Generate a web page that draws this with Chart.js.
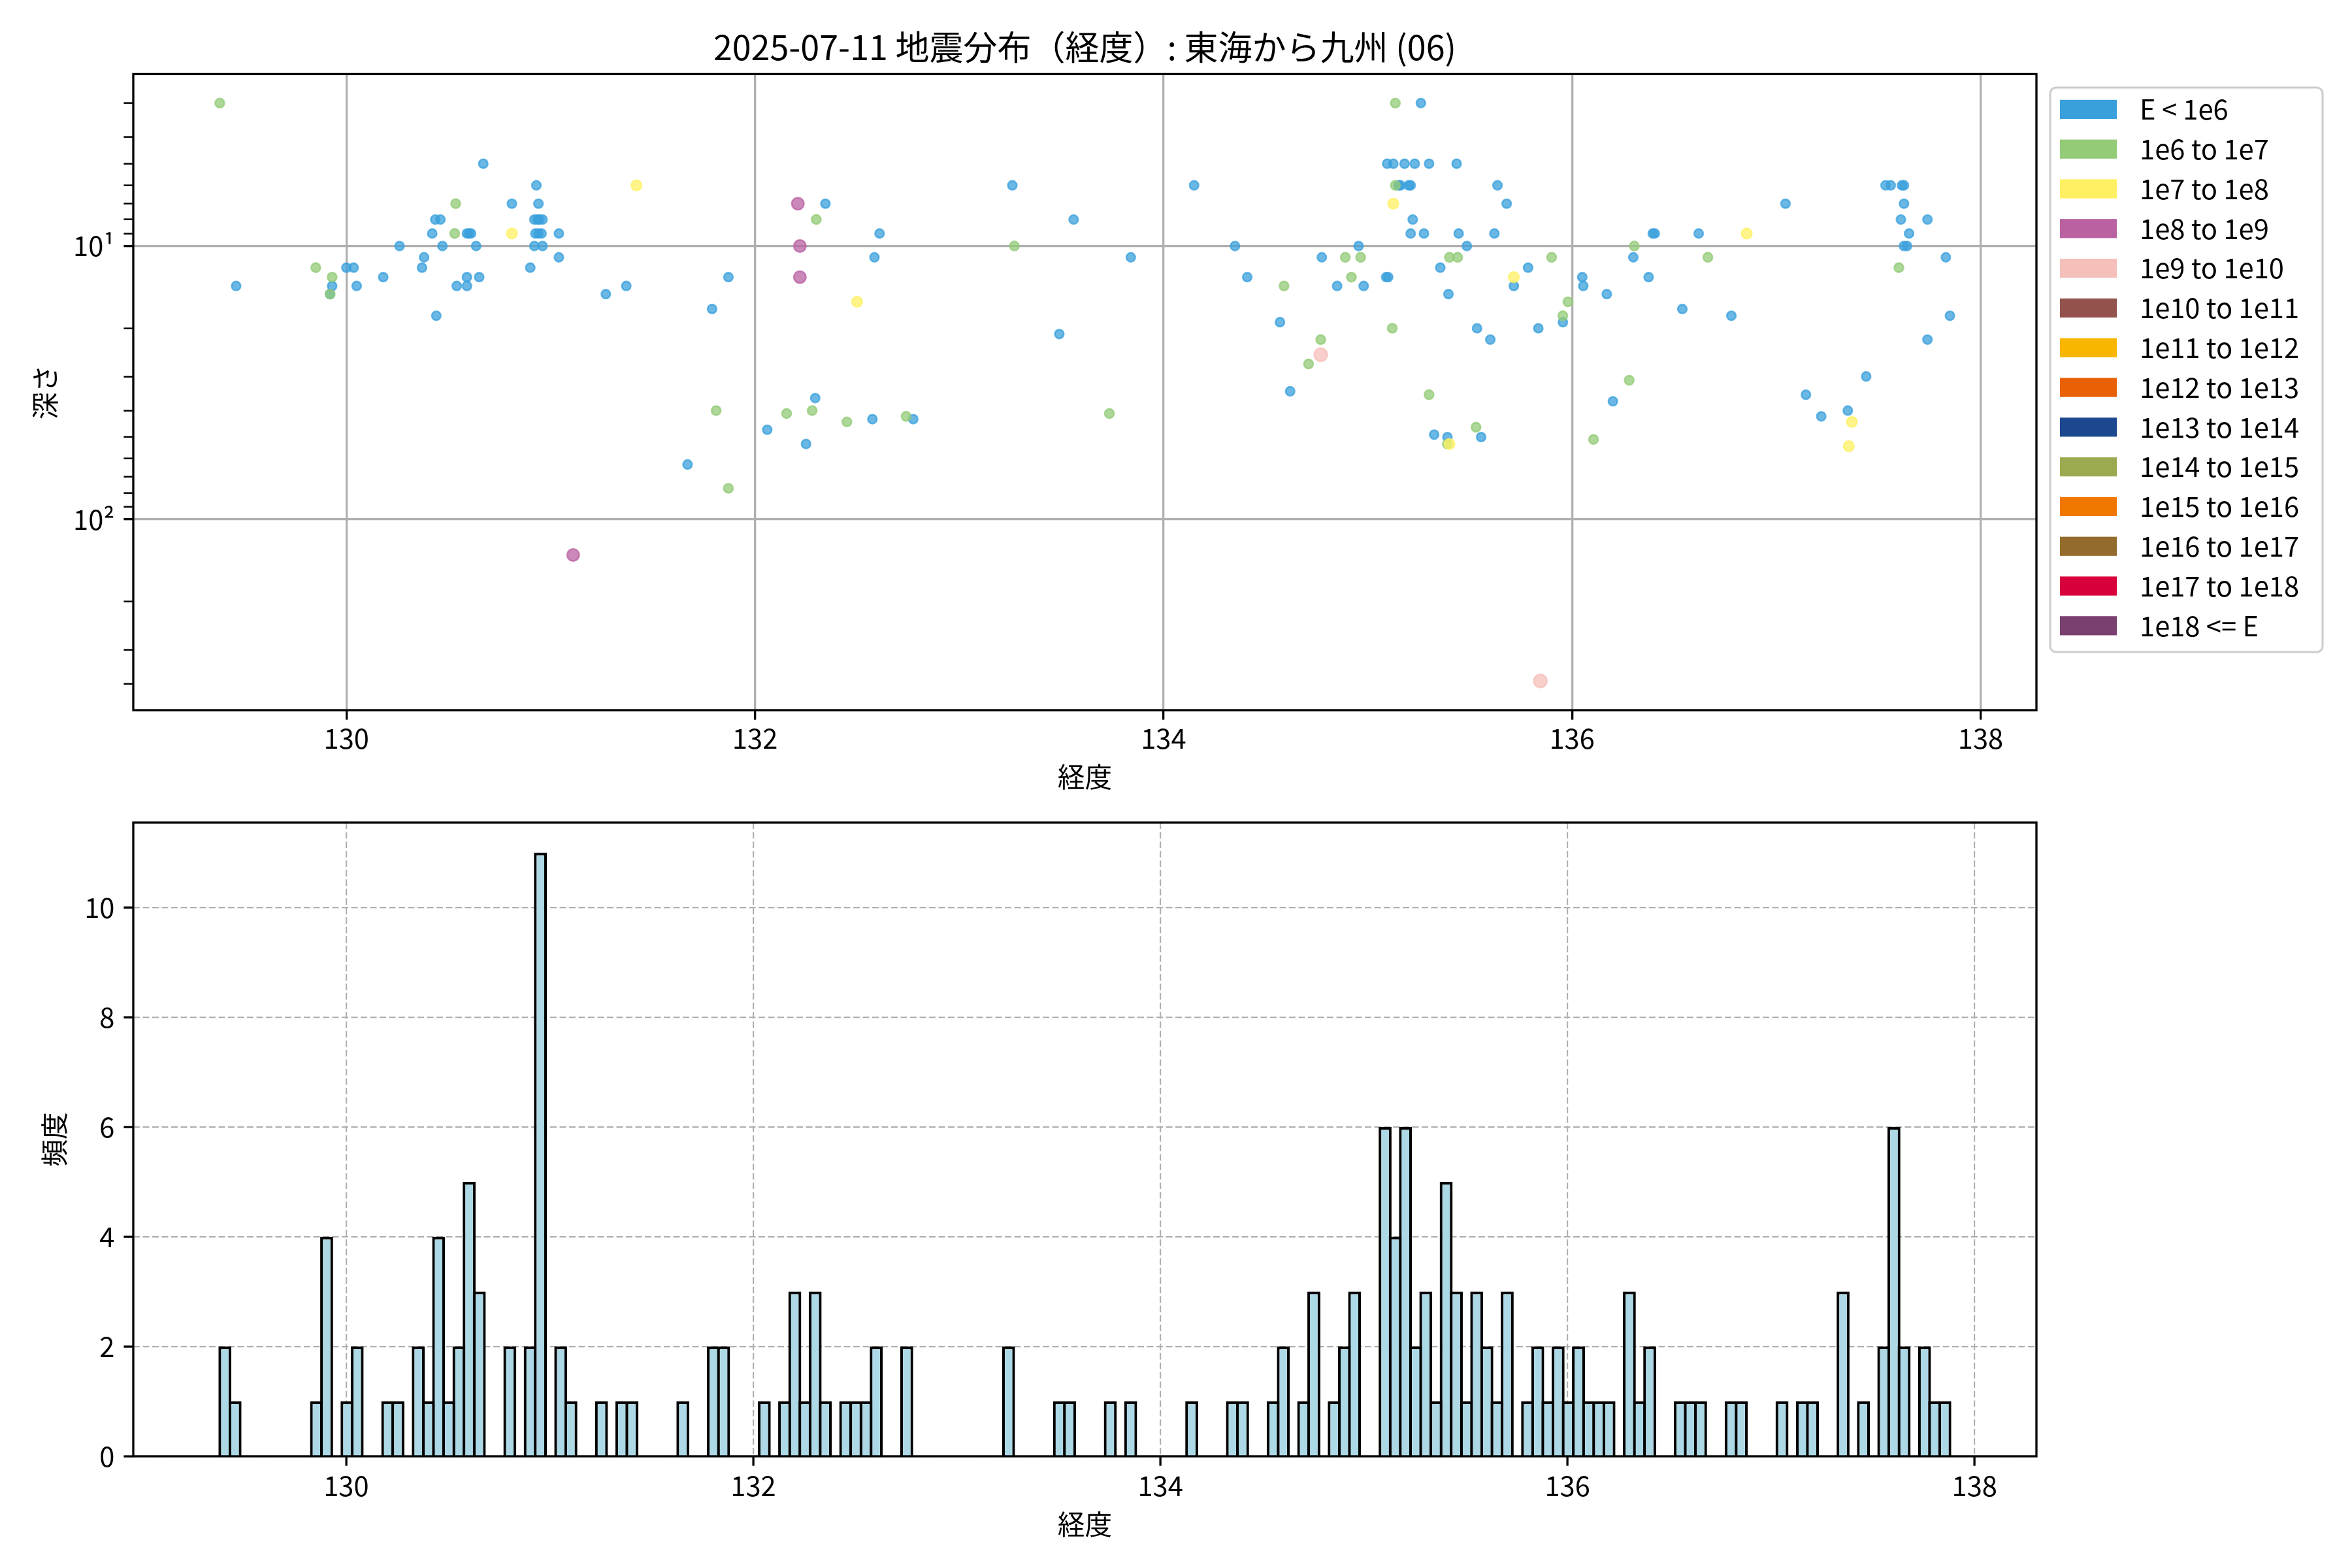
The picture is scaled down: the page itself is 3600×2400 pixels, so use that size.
<!DOCTYPE html>
<html>
<head>
<meta charset="utf-8">
<script src="https://cdn.jsdelivr.net/npm/chart.js@4.4.1/dist/chart.umd.min.js"></script>
<style>
  body { margin: 0; background: #fff; }
  #wrap { position: relative; width: 3600px; height: 2400px; background: #fff; }
  canvas { position: absolute; left: 0; }
</style>
</head>
<body>
<div id="wrap">
  <canvas id="scatterChart" width="3600" height="1220" style="top:0px"></canvas>
  <canvas id="histChart" width="3600" height="1180" style="top:1220px"></canvas>
</div>
<script>
// Chart text
const titleText = '2025-07-11 地震分布（経度）: 東海から九州 (06)';

// Energy classes (legend)
const energyLabels = ['E < 1e6', '1e6 to 1e7', '1e7 to 1e8', '1e8 to 1e9', '1e9 to 1e10',
  '1e10 to 1e11', '1e11 to 1e12', '1e12 to 1e13', '1e13 to 1e14', '1e14 to 1e15',
  '1e15 to 1e16', '1e16 to 1e17', '1e17 to 1e18', '1e18 <= E'];
const energyColors = ['#3AA0DC', '#93CB77', '#FFF063', '#BA62A1', '#F5BFBA',
  '#94524C', '#F8B600', '#EA6005', '#1B488E', '#9BAA50',
  '#F07800', '#936B2C', '#D7003A', '#7A4070'];

// Events: longitude, depth (km), energy class index
const quakeLon = [
  129.38, 129.46, 129.85, 129.93, 129.93, 129.92, 129.92, 130.00, 130.035, 130.05,
  130.18, 130.26, 130.37, 130.38, 130.42, 130.435, 130.46, 130.47, 130.44, 130.535,
  130.53, 130.54, 130.59, 130.59, 130.59, 130.60, 130.61, 130.635, 130.65, 130.67,
  130.81, 130.81, 130.90, 130.93, 130.94, 130.92, 130.935, 130.945, 130.96, 130.925,
  130.94, 130.955, 130.92, 130.96, 131.04, 131.04, 131.27, 131.11, 131.42, 131.37,
  131.79, 131.87, 131.81, 131.67, 131.87, 132.21, 132.345, 132.30, 132.22, 132.22,
  132.61, 132.585, 132.50, 132.295, 132.155, 132.28, 132.06, 132.25, 132.45, 132.575,
  132.74, 132.775, 133.26, 133.27, 133.56, 133.49, 133.84, 133.735, 134.15, 134.35,
  134.41, 134.57, 134.59, 134.62, 134.71, 134.77, 134.77, 134.775, 134.85, 134.89,
  134.92, 134.965, 134.955, 134.98, 135.09, 135.10, 135.12, 135.135, 135.26, 135.095,
  135.125, 135.18, 135.23, 135.30, 135.435, 135.135, 135.15, 135.16, 135.20, 135.21,
  135.635, 135.125, 135.68, 135.22, 135.21, 135.275, 135.445, 135.62, 135.485, 135.40,
  135.44, 135.355, 135.90, 135.785, 135.715, 135.715, 135.395, 135.98, 135.955, 135.955,
  135.535, 135.60, 135.835, 135.30, 135.325, 135.39, 135.39, 135.40, 135.53, 135.555,
  135.845, 136.05, 136.055, 136.17, 136.105, 136.20, 136.28, 136.305, 136.30, 136.375,
  136.395, 136.405, 136.54, 136.62, 136.665, 136.78, 136.855, 137.045, 137.145, 137.22,
  137.35, 137.37, 137.355, 137.44, 137.535, 137.56, 137.615, 137.625, 137.625, 137.61,
  137.74, 137.65, 137.625, 137.64, 137.60, 137.83, 137.85, 137.74
];
const quakeDepth = [
  3, 14, 12, 13, 14, 15, 15, 12, 12, 14,
  13, 10, 12, 11, 9, 8, 8, 10, 18, 7,
  9, 14, 13, 14, 9, 9, 9, 10, 13, 5,
  9, 7, 12, 6, 7, 8, 8, 8, 8, 9,
  9, 9, 10, 10, 9, 11, 15, 135, 6, 14,
  17, 13, 40, 63, 77, 7, 7, 8, 10, 13,
  9, 11, 16, 36, 41, 40, 47, 53, 44, 43,
  42, 43, 6, 10, 8, 21, 11, 41, 6, 10,
  13, 19, 14, 34, 27, 22, 25, 11, 14, 11,
  13, 11, 10, 14, 13, 13, 20, 3, 3, 5,
  5, 5, 5, 5, 5, 6, 6, 6, 6, 6,
  6, 7, 7, 8, 9, 9, 9, 9, 10, 11,
  11, 12, 11, 12, 13, 14, 15, 16, 18, 19,
  20, 22, 20, 35, 49, 50, 53, 53, 46, 50,
  390, 13, 14, 15, 51, 37, 31, 10, 11, 13,
  9, 9, 17, 9, 11, 18, 9, 7, 35, 42,
  40, 44, 54, 30, 6, 6, 6, 6, 7, 8,
  8, 9, 10, 10, 12, 11, 18, 22
];
const quakeClass = [
  1, 0, 1, 1, 0, 1, 0, 0, 0, 0,
  0, 0, 0, 0, 0, 0, 0, 0, 0, 1,
  1, 0, 0, 0, 0, 0, 0, 0, 0, 0,
  2, 0, 0, 0, 0, 0, 0, 0, 0, 0,
  0, 0, 0, 0, 0, 0, 0, 3, 2, 0,
  0, 0, 1, 0, 1, 3, 0, 1, 3, 3,
  0, 0, 2, 0, 1, 1, 0, 0, 1, 0,
  1, 0, 0, 1, 0, 0, 0, 1, 0, 0,
  0, 0, 1, 0, 1, 1, 4, 0, 0, 1,
  1, 1, 0, 0, 0, 0, 1, 1, 0, 0,
  0, 0, 0, 0, 0, 1, 0, 0, 0, 0,
  0, 2, 0, 0, 0, 0, 0, 0, 0, 1,
  1, 0, 1, 0, 2, 0, 0, 1, 1, 0,
  0, 0, 0, 1, 0, 0, 1, 2, 1, 0,
  4, 0, 0, 0, 1, 0, 1, 1, 0, 0,
  0, 0, 0, 0, 1, 0, 2, 0, 0, 0,
  0, 2, 2, 0, 0, 0, 0, 0, 0, 0,
  0, 0, 0, 0, 1, 0, 0, 0
];

// Histogram: 0.05 degree bins starting at the westernmost event
const histStart = 129.379;
const histBinWidth = 0.05;
const histCounts = [
  2, 1, 0, 0, 0, 0, 0, 0, 0, 1,
  4, 0, 1, 2, 0, 0, 1, 1, 0, 2,
  1, 4, 1, 2, 5, 3, 0, 0, 2, 0,
  2, 11, 0, 2, 1, 0, 0, 1, 0, 1,
  1, 0, 0, 0, 0, 1, 0, 0, 2, 2,
  0, 0, 0, 1, 0, 1, 3, 1, 3, 1,
  0, 1, 1, 1, 2, 0, 0, 2, 0, 0,
  0, 0, 0, 0, 0, 0, 0, 2, 0, 0,
  0, 0, 1, 1, 0, 0, 0, 1, 0, 1,
  0, 0, 0, 0, 0, 1, 0, 0, 0, 1,
  1, 0, 0, 1, 2, 0, 1, 3, 0, 1,
  2, 3, 0, 0, 6, 4, 6, 2, 3, 1,
  5, 3, 1, 3, 2, 1, 3, 0, 1, 2,
  1, 2, 1, 2, 1, 1, 1, 0, 3, 1,
  2, 0, 0, 1, 1, 1, 0, 0, 1, 1,
  0, 0, 0, 1, 0, 1, 1, 0, 0, 3,
  0, 1, 0, 2, 6, 2, 0, 2, 1, 1
];

// Axis ticks
const lonTicks = [130, 132, 134, 136, 138];
const depthTicks = [3, 4, 5, 6, 7, 8, 9, 10, 20, 30, 40, 50, 60, 70, 80, 90, 100, 200, 300, 400];
const depthMajor = [10, 100];
const countTicks = [0, 2, 4, 6, 8, 10];

// marker radius per energy class
const classRadius = [6.8, 7.0, 7.8, 9.2, 10.0, 10, 10, 10, 10, 10, 10, 10, 10, 10];

function rgba(hex, a) {
  const n = parseInt(hex.slice(1), 16);
  return `rgba(${(n >> 16) & 255}, ${(n >> 8) & 255}, ${n & 255}, ${a})`;
}

// black box round the plot area, like matplotlib spines
const framePlugin = {
  id: 'frame',
  afterDraw(chart) {
    const { ctx, chartArea: a } = chart;
    ctx.save();
    ctx.strokeStyle = '#000';
    ctx.lineWidth = 3.3;
    ctx.strokeRect(a.left, a.top, a.right - a.left, a.bottom - a.top);
    ctx.restore();
  }
};

// legend outside the axes on the right
const energyLegend = {
  id: 'energyLegend',
  afterDraw(chart) {
    const ctx = chart.ctx;
    const bx = 3138, by = 134, bw = 417, bh = 864;
    ctx.save();
    ctx.beginPath();
    if (ctx.roundRect) ctx.roundRect(bx, by, bw, bh, 9);
    else ctx.rect(bx, by, bw, bh);
    ctx.fillStyle = 'rgba(255,255,255,0.8)';
    ctx.fill();
    ctx.lineWidth = 3;
    ctx.strokeStyle = '#cccccc';
    ctx.stroke();
    ctx.font = '41.7px "Noto Sans CJK JP", sans-serif';
    ctx.textBaseline = 'middle';
    energyLabels.forEach((label, k) => {
      const cy = 167.4 + 60.8 * k;
      ctx.fillStyle = energyColors[k];
      ctx.fillRect(3153, cy - 14.6, 87, 29.2);
      ctx.fillStyle = '#000';
      ctx.fillText(label, 3275, cy);
    });
    ctx.restore();
  }
};

function draw() {
  Chart.defaults.font.family = '"Noto Sans CJK JP", sans-serif';
  Chart.defaults.font.size = 41.7;
  Chart.defaults.color = '#000';

  const scatterSets = energyLabels.map((label, k) => {
    const pts = [];
    quakeLon.forEach((x, i) => {
      if (quakeClass[i] === k) pts.push({ x, y: quakeDepth[i] });
    });
    return {
      label,
      data: pts,
      pointRadius: classRadius[k],
      pointBackgroundColor: rgba(energyColors[k], 0.75),
      pointBorderColor: rgba(energyColors[k], 0.75),
      pointBorderWidth: 2.6,
      showLine: false,
      order: energyLabels.length - k
    };
  });

  new Chart(document.getElementById('scatterChart'), {
    type: 'scatter',
    data: { datasets: scatterSets },
    options: {
      responsive: false,
      animation: false,
      devicePixelRatio: 1,
      events: [],
      layout: { padding: { left: 0, right: 483, top: 0, bottom: 0 } },
      plugins: {
        legend: { display: false },
        tooltip: { enabled: false },
        title: {
          display: true, text: titleText, fullSize: false,
          font: { size: 52, weight: 'normal' },
          padding: { top: 41, bottom: 10 }
        }
      },
      scales: {
        x: {
          type: 'linear', min: 128.9565, max: 138.2735, z: 1,
          afterBuildTicks: s => { s.ticks = lonTicks.map(v => ({ value: v })); },
          afterFit: s => { s.height = 133; },
          border: { display: false },
          grid: { color: '#b0b0b0', lineWidth: 3.3, tickColor: '#000', tickWidth: 3.3, tickLength: 14.6 },
          ticks: { padding: 4, autoSkip: false, maxRotation: 0, callback: v => String(v) },
          title: { display: true, text: '経度', padding: { top: 0, bottom: 6 } }
        },
        y: {
          type: 'logarithmic', reverse: true, min: 2.35, max: 499, z: 1,
          afterBuildTicks: s => { s.ticks = depthTicks.map(v => ({ value: v })); },
          afterFit: s => { s.width = 204; },
          border: { display: false },
          grid: {
            color: c => (c.tick && depthMajor.includes(c.tick.value)) ? '#b0b0b0' : 'rgba(0,0,0,0)',
            lineWidth: 3.3,
            tickColor: '#000',
            tickWidth: c => (c.tick && depthMajor.includes(c.tick.value)) ? 3.3 : 2.5,
            tickLength: 14.6
          },
          ticks: {
            padding: 14, autoSkip: false,
            callback: v => v === 10 ? '10¹' : (v === 100 ? '10²' : '')
          },
          title: { display: true, text: '深さ', padding: { top: 44, bottom: 0 } }
        }
      }
    },
    plugins: [framePlugin, energyLegend]
  });

  new Chart(document.getElementById('histChart'), {
    type: 'bar',
    data: {
      datasets: [{
        data: histCounts.map((n, i) => ({ x: histStart + histBinWidth * (i + 0.5), y: n })),
        backgroundColor: '#ADD8E6',
        borderColor: '#000',
        borderWidth: 4.2,
        barPercentage: 1.27,
        categoryPercentage: 1
      }]
    },
    options: {
      responsive: false,
      animation: false,
      devicePixelRatio: 1,
      events: [],
      layout: { padding: { left: 0, right: 483, top: 36, bottom: 0 } },
      plugins: { legend: { display: false }, tooltip: { enabled: false } },
      scales: {
        x: {
          type: 'linear', min: 128.954, max: 138.304, offset: false, z: 1,
          afterBuildTicks: s => { s.ticks = lonTicks.map(v => ({ value: v })); },
          afterFit: s => { s.height = 171; },
          border: { display: false, dash: [10, 4.5] },
          grid: {
            offset: false, color: '#b0b0b0', lineWidth: 2.2,
            tickColor: '#000', tickWidth: 3.3, tickLength: 14.6
          },
          ticks: { padding: 6, autoSkip: false, maxRotation: 0, callback: v => String(v) },
          title: { display: true, text: '経度', padding: { top: 0, bottom: 42 } }
        },
        y: {
          min: 0, max: 11.55, z: 1,
          afterBuildTicks: s => { s.ticks = countTicks.map(v => ({ value: v })); },
          afterFit: s => { s.width = 204; },
          border: { display: false, dash: [10, 4.5] },
          grid: {
            color: '#b0b0b0', lineWidth: 2.2,
            tickColor: '#000', tickWidth: 3.3, tickLength: 14.6
          },
          ticks: { padding: 14, autoSkip: false },
          title: { display: true, text: '頻度', padding: { top: 58, bottom: 0 } }
        }
      }
    },
    plugins: [framePlugin]
  });
}

if (document.fonts && document.fonts.load) {
  document.fonts.load('42px "Noto Sans CJK JP"').then(draw, draw);
} else {
  draw();
}
</script>
</body>
</html>
